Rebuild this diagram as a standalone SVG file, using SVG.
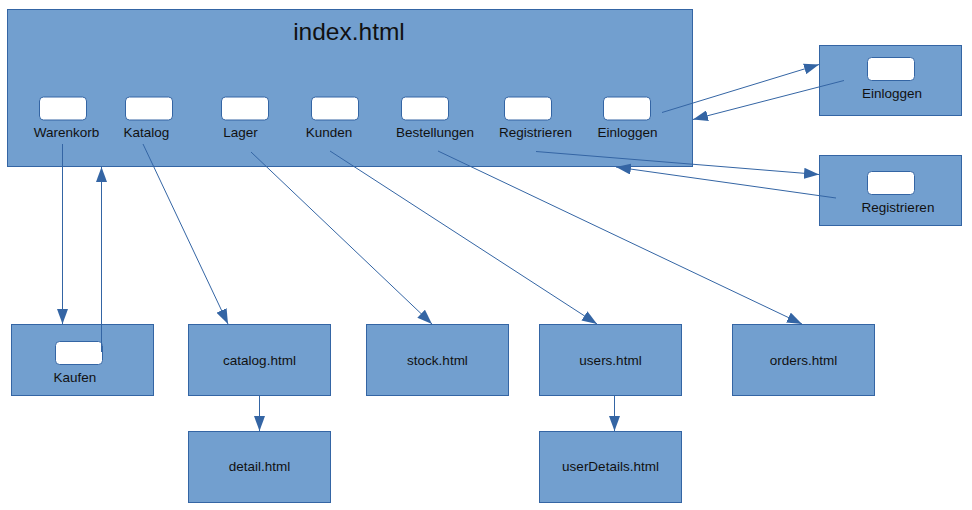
<svg xmlns="http://www.w3.org/2000/svg" width="972" height="510" viewBox="0 0 972 510">
<style>
.box{fill:#729fcf;stroke:#3465a4;stroke-width:1}
.btn{fill:#ffffff;stroke:#3465a4;stroke-width:1}
.t{font-family:"Liberation Sans",Arial,sans-serif;font-size:13.5px;fill:#111111;text-anchor:middle}
.title{font-family:"Liberation Sans",Arial,sans-serif;font-size:24.5px;fill:#111111;text-anchor:middle}
.c{stroke:#3465a4;stroke-width:1;fill:none;marker-end:url(#ah)}
</style>
<defs>
<marker id="ah" markerUnits="userSpaceOnUse" markerWidth="15" markerHeight="11" refX="15" refY="5.5" orient="auto">
<path d="M0,0 L15,5.5 L0,11 z" fill="#3465a4"/>
</marker>
</defs>
<g id="index">
<rect class="box" x="7.5" y="9.5" width="685" height="157"/>
<text class="title" x="349" y="40">index.html</text>
<rect class="btn" x="39.5" y="97" width="47" height="23" rx="4"/>
<text class="t" x="66.5" y="137">Warenkorb</text>
<rect class="btn" x="125.5" y="97" width="47" height="23" rx="4"/>
<text class="t" x="146.5" y="137">Katalog</text>
<rect class="btn" x="221.5" y="97" width="47" height="23" rx="4"/>
<text class="t" x="240.5" y="137">Lager</text>
<rect class="btn" x="311.5" y="97" width="47" height="23" rx="4"/>
<text class="t" x="329" y="137">Kunden</text>
<rect class="btn" x="401.5" y="97" width="47" height="23" rx="4"/>
<text class="t" x="435" y="137">Bestellungen</text>
<rect class="btn" x="504.5" y="97" width="47" height="23" rx="4"/>
<text class="t" x="535.5" y="137">Registrieren</text>
<rect class="btn" x="603.5" y="97" width="47" height="23" rx="4"/>
<text class="t" x="627.5" y="137">Einloggen</text>
</g>
<g id="einloggen">
<rect class="box" x="819.5" y="45.5" width="142" height="70"/>
<rect class="btn" x="867.5" y="57.5" width="47" height="23" rx="4"/>
<text class="t" x="892" y="98">Einloggen</text>
</g>
<g id="registrieren">
<rect class="box" x="819.5" y="155.5" width="142" height="70"/>
<rect class="btn" x="867.5" y="171.5" width="47" height="23" rx="4"/>
<text class="t" x="898" y="212">Registrieren</text>
</g>
<g id="kaufen">
<rect class="box" x="11.5" y="324.5" width="142" height="71"/>
<rect class="btn" x="55.5" y="341.5" width="47" height="23" rx="4"/>
<text class="t" x="75" y="382">Kaufen</text>
</g>
<g id="catalog">
<rect class="box" x="188.5" y="324.5" width="142" height="71"/>
<text class="t" x="259.5" y="365">catalog.html</text>
</g>
<g id="detail">
<rect class="box" x="188.5" y="431.5" width="142" height="71"/>
<text class="t" x="259.5" y="471">detail.html</text>
</g>
<g id="stock">
<rect class="box" x="366.5" y="324.5" width="142" height="71"/>
<text class="t" x="437.5" y="365">stock.html</text>
</g>
<g id="users">
<rect class="box" x="539.5" y="324.5" width="142" height="71"/>
<text class="t" x="610.5" y="365">users.html</text>
</g>
<g id="userDetails">
<rect class="box" x="539.5" y="431.5" width="142" height="71"/>
<text class="t" x="610.5" y="471">userDetails.html</text>
</g>
<g id="orders">
<rect class="box" x="732.5" y="324.5" width="142" height="71"/>
<text class="t" x="803.5" y="365">orders.html</text>
</g>
<g id="connectors">
<line class="c" x1="62.5" y1="144" x2="62.5" y2="324"/>
<line class="c" x1="101.5" y1="352" x2="101.5" y2="167"/>
<line class="c" x1="143" y1="144" x2="228" y2="324"/>
<line class="c" x1="251" y1="152" x2="432" y2="324"/>
<line class="c" x1="330" y1="151" x2="597" y2="324"/>
<line class="c" x1="438" y1="151" x2="802" y2="324"/>
<line class="c" x1="662" y1="112.5" x2="819" y2="64.5"/>
<line class="c" x1="844" y1="80.5" x2="693" y2="119.5"/>
<line class="c" x1="536" y1="151.5" x2="819" y2="174.5"/>
<line class="c" x1="836" y1="198" x2="616" y2="167"/>
<line class="c" x1="259.5" y1="395.5" x2="259.5" y2="431"/>
<line class="c" x1="614.5" y1="395.5" x2="614.5" y2="431"/>
</g>
</svg>
